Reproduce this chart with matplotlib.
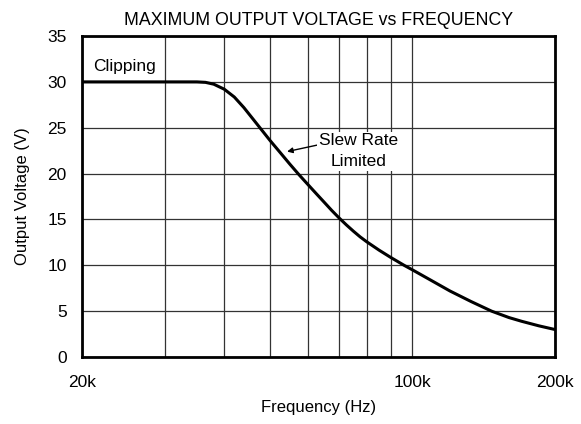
import matplotlib
matplotlib.use("Agg")
import matplotlib.pyplot as plt
from matplotlib.ticker import FixedLocator, NullFormatter

plt.rcParams['font.family'] = ['Liberation Sans', 'DejaVu Sans']

# values
freq = [20e3, 30e3, 35e3, 36.5e3, 38e3, 40e3, 42e3, 44e3, 46e3, 48e3,
        50e3, 52.5e3, 55e3, 57.5e3, 60e3, 62.5e3, 65e3, 67.5e3, 70e3, 72.5e3,
        75e3, 77.5e3, 80e3, 85e3, 90e3, 96e3, 100e3, 110e3, 120e3, 133e3,
        147e3, 160e3, 170e3, 185e3, 200e3]
vout = [30, 30, 30, 29.95, 29.75, 29.2, 28.35, 27.2, 25.95, 24.75,
        23.6, 22.3, 21.05, 19.9, 18.85, 17.85, 16.9, 15.98, 15.15, 14.4,
        13.72, 13.1, 12.57, 11.65, 10.85, 10.0, 9.5, 8.3, 7.2, 6.05,
        5.0, 4.3, 3.9, 3.4, 3.0]

x_major = [20e3, 100e3, 200e3]
x_major_labels = ["20k", "100k", "200k"]
x_minor = [30e3, 40e3, 50e3, 60e3, 70e3, 80e3, 90e3]
y_ticks = [0, 5, 10, 15, 20, 25, 30, 35]

fig = plt.figure(figsize=(5.81, 4.24), dpi=100)
ax = fig.add_axes([0.141, 0.158, 0.814, 0.757])

ax.plot(freq, vout, color="black", lw=2.2, solid_capstyle="round",
        solid_joinstyle="round")

ax.set_xscale("log")
ax.set_xlim(20e3, 200e3)
ax.set_ylim(0, 35)
ax.xaxis.set_major_locator(FixedLocator(x_major))
ax.set_xticklabels(x_major_labels)
ax.xaxis.set_minor_locator(FixedLocator(x_minor))
ax.xaxis.set_minor_formatter(NullFormatter())
ax.set_yticks(y_ticks)

ax.grid(which="both", axis="x", color="#333333", lw=0.9)
ax.grid(which="major", axis="y", color="#333333", lw=0.9)
ax.tick_params(which="both", length=0, labelsize=12.5)
ax.tick_params(axis="x", pad=13)
ax.tick_params(axis="y", pad=11)
for s in ax.spines.values():
    s.set_linewidth(2)

ax.set_title("MAXIMUM OUTPUT VOLTAGE vs FREQUENCY", fontsize=12.8, pad=8)
ax.set_xlabel("Frequency (Hz)", fontsize=12, labelpad=7)
ax.set_ylabel("Output Voltage (V)", fontsize=12, labelpad=12)

ax.text(21.1e3, 31.7, "Clipping", fontsize=12.5, va="center", ha="left")
ax.annotate("Slew Rate\nLimited", xy=(54.3e3, 22.4), xytext=(76.8e3, 22.45),
            fontsize=12.5, ha="center", va="center", linespacing=1.45,
            bbox=dict(boxstyle="square,pad=0.1", fc="white", ec="none"),
            arrowprops=dict(arrowstyle="-|>", color="black", lw=1,
                            mutation_scale=8, shrinkA=0, shrinkB=0,
                            relpos=(0.0, 0.68)))

fig.savefig("out.png", dpi=100)
